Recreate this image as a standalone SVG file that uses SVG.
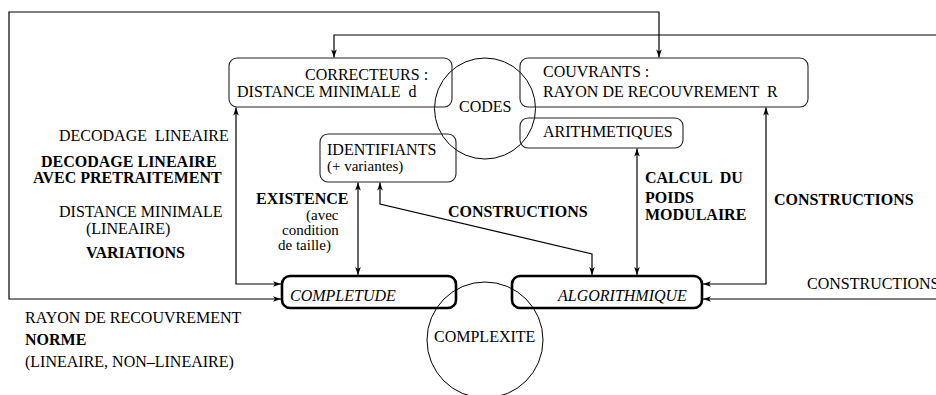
<svg xmlns="http://www.w3.org/2000/svg" width="936" height="395" viewBox="0 0 936 395">
<style>
text{font-family:"Liberation Serif","Times New Roman",serif;font-size:16px;fill:#000}
.b{font-weight:bold}
.i{font-style:italic}
.s{font-size:15px}
.box{fill:none;stroke:#222;stroke-width:1.1}
.tbox{fill:none;stroke:#000;stroke-width:2.6}
.circ{fill:none;stroke:#000;stroke-width:1}
.con{fill:none;stroke:#000;stroke-width:1.2}
</style>
<defs>
<marker id="ah" viewBox="-9 -3 10 6" refX="0" refY="0" markerWidth="10" markerHeight="6" markerUnits="userSpaceOnUse" orient="auto-start-reverse">
<path d="M0,0 L-8,-2.8 L-6,0 L-8,2.8 Z" fill="#000"/>
</marker>
</defs>
<rect width="936" height="395" fill="#fff"/>
<g id="codes"><circle class="circ" cx="485" cy="108.5" r="50.5"/><text x="459" y="112">CODES</text></g>
<g id="complexite"><circle class="circ" cx="485" cy="340" r="58"/><text x="434" y="342">COMPLEXITE</text></g>
<g id="correcteurs"><rect class="box" x="229" y="58" width="223" height="49" rx="8"/><text x="305" y="80">CORRECTEURS :</text><text x="237" y="97" xml:space="preserve">DISTANCE MINIMALE  d</text></g>
<g id="couvrants"><rect class="box" x="520" y="58" width="288" height="49" rx="8"/><text x="543" y="77">COUVRANTS :</text><text x="543" y="97" xml:space="preserve">RAYON DE RECOUVREMENT  R</text></g>
<g id="arithmetiques"><rect class="box" x="520" y="118" width="163" height="30" rx="8"/><text x="543" y="137">ARITHMETIQUES</text></g>
<g id="identifiants"><rect class="box" x="320" y="134" width="136" height="48" rx="8"/><text x="327" y="155">IDENTIFIANTS</text><text class="s" x="327" y="171">(+ variantes)</text></g>
<g id="completude"><rect class="tbox" x="282" y="276" width="174" height="32" rx="8"/><text class="i" x="290" y="301">COMPLETUDE</text></g>
<g id="algorithmique"><rect class="tbox" x="512" y="276" width="190" height="32" rx="8"/><text class="i" x="558" y="301">ALGORITHMIQUE</text></g>
<g id="connectors">
<path class="con" d="M281,299 H9 V12 H659 V57.5" marker-start="url(#ah)" marker-end="url(#ah)"/>
<path class="con" d="M334,57.5 V35 H936" marker-start="url(#ah)"/>
<path class="con" d="M236,107.5 V284 H281" marker-start="url(#ah)" marker-end="url(#ah)"/>
<path class="con" d="M358,182.5 V275" marker-start="url(#ah)" marker-end="url(#ah)"/>
<path class="con" d="M380,182.5 V204 L592,254 V275" marker-start="url(#ah)" marker-end="url(#ah)"/>
<path class="con" d="M637,148.5 V275" marker-start="url(#ah)" marker-end="url(#ah)"/>
<path class="con" d="M766,107.5 V284 H703" marker-start="url(#ah)" marker-end="url(#ah)"/>
<path class="con" d="M936,299 H703" marker-end="url(#ah)"/>
</g>
<g id="labels">
<text x="59" y="141" xml:space="preserve">DECODAGE  LINEAIRE</text>
<text class="b" x="41" y="167">DECODAGE LINEAIRE</text>
<text class="b" x="33" y="183">AVEC PRETRAITEMENT</text>
<text x="59" y="217">DISTANCE MINIMALE</text>
<text x="86" y="234">(LINEAIRE)</text>
<text class="b" x="86" y="258">VARIATIONS</text>
<text class="b" x="256" y="204">EXISTENCE</text>
<text class="s" x="306" y="220">(avec</text>
<text class="s" x="282" y="235">condition</text>
<text class="s" x="278" y="250">de taille)</text>
<text class="b" x="448" y="217">CONSTRUCTIONS</text>
<text class="b" x="645" y="183" xml:space="preserve">CALCUL  DU</text>
<text class="b" x="645" y="203">POIDS</text>
<text class="b" x="645" y="220">MODULAIRE</text>
<text class="b" x="774" y="205">CONSTRUCTIONS</text>
<text x="807" y="289">CONSTRUCTIONS</text>
<text x="25" y="323">RAYON DE RECOUVREMENT</text>
<text class="b" x="25" y="345">NORME</text>
<text x="25" y="367">(LINEAIRE, NON–LINEAIRE)</text>
</g>
</svg>
